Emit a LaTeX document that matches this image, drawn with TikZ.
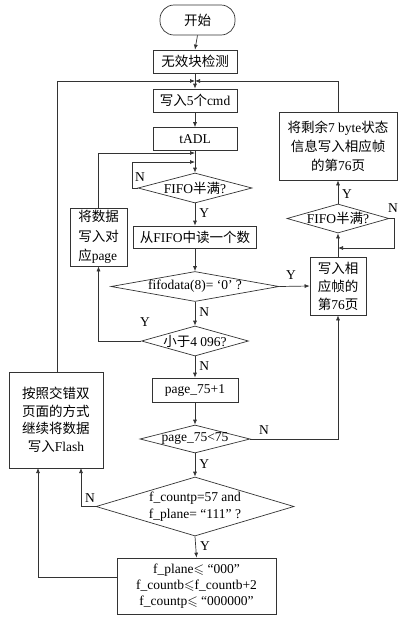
\documentclass[tikz,border=0pt]{standalone}
\usepackage{amssymb}
\usepackage{fontspec}
\setmainfont{Liberation Serif}
\newfontfamily\cjk{Noto Sans CJK SC}
\usetikzlibrary{shapes.geometric,arrows.meta}
\newcommand\zh[1]{{\cjk #1}}
\newcommand\nf{\fontsize{13.5pt}{17.5pt}\selectfont}
\definecolor{ln}{HTML}{333333}
\tikzset{
  box/.style={draw=ln, line width=0.7pt, rectangle, inner sep=0pt, align=center, font=\nf},
  dia/.style={draw=ln, line width=0.7pt, diamond, inner sep=0pt},
  arr/.style={draw=ln, line width=0.7pt, -{Latex[length=5pt,width=4pt]}},
  ln/.style={draw=ln, line width=0.7pt},
  lab/.style={font=\nf, inner sep=0pt},
}
\begin{document}
\begin{tikzpicture}[x=1pt,y=-1pt]
\fill[white] (0,0) rectangle (419,625);
\useasboundingbox (0,0) rectangle (419,625);
% main column
\node[box, rounded corners=14pt, minimum width=75pt, minimum height=30pt] (start) at (197.5,20) {\zh{开始}};
\node[box, minimum width=84pt, minimum height=23pt] (b1) at (195,61.5) {\zh{无效块检测}};
\coordinate (J1) at (195,81);
\node[box, minimum width=84pt, minimum height=23pt] (b2) at (195,100.5) {\zh{写入}5\zh{个}cmd};
\node[box, minimum width=84pt, minimum height=23pt] (b3) at (195,139) {tADL};
\coordinate (J2) at (195,153);
\coordinate (J3) at (195,162);
\node[dia, minimum width=114pt, minimum height=30pt, label={[font=\nf]center:FIFO\zh{半满}?}] (d1) at (195,188) {};
\node[box, minimum width=123pt, minimum height=22pt] (b4) at (195,237) {\zh{从}FIFO\zh{中读一个数}};
\node[dia, minimum width=168pt, minimum height=30pt, label={[font=\nf]center:fifodata(8)= ‘0’ ?}] (d3) at (195,286.5) {};
\node[dia, minimum width=107pt, minimum height=30pt, label={[font=\nf]center:\zh{小于}4 096?}] (d4) at (195,341) {};
\node[box, minimum width=86pt, minimum height=24pt] (b9) at (195,390) {page\_75+1};
\node[dia, minimum width=110pt, minimum height=28pt, label={[font=\nf]center:page\_75<75}] (d5) at (195,439) {};
\node[dia, minimum width=198pt, minimum height=59pt, label={[font=\nf, align=center]center:{f\_countp=57 and\\f\_plane= “111” ?}}] (d6) at (195,506.5) {};
\node[box, minimum width=159pt, minimum height=56pt, font=\fontsize{13.5pt}{16pt}\selectfont] (b10) at (196.5,586) {f\_plane$\leqslant$ “000”\\f\_countb$\leqslant$f\_countb+2\\f\_countp$\leqslant$ “000000”};
% left
\node[box, align=left, minimum width=57pt, minimum height=58pt, font=\fontsize{13.5pt}{19.5pt}\selectfont] (b5) at (98.5,237) {\zh{将数据}\\\zh{写入对}\\\zh{应}page};
\node[box, minimum width=94pt, minimum height=96pt] (b8) at (56,420) {\zh{按照交错双}\\\zh{页面的方式}\\\zh{继续将数据}\\\zh{写入}Flash};
% right
\node[box, minimum width=56pt, minimum height=58pt, font=\fontsize{13.5pt}{18pt}\selectfont] (b6) at (338,286) {\zh{写入相}\\\zh{应帧的}\\\zh{第}76\zh{页}};
\node[dia, minimum width=102pt, minimum height=29pt, label={[font=\nf]center:FIFO\zh{半满}?}] (d2) at (338,218.5) {};
\node[box, minimum width=118pt, minimum height=68pt, font=\fontsize{13.5pt}{19pt}\selectfont] (b7) at (338,146) {\zh{将剩余}7 byte\zh{状态}\\\zh{信息写入相应帧}\\\zh{的第}76\zh{页}};
% connectors main
\draw[arr] (start.south) -- (b1.north);
\draw[arr] (b1.south) -- (b2.north);
\draw[arr] (b2.south) -- (b3.north);
\draw[arr] (b3.south) -- (d1.north);
\draw[arr] (d1.south) -- node[lab, right=4pt, pos=0.45]{Y} (b4.north);
\draw[arr] (b4.south) -- (d3.north);
\draw[arr] (d3.south) -- node[lab, right=4pt, pos=0.45]{N} (d4.north);
\draw[arr] (d4.south) -- node[lab, right=4pt, pos=0.45]{N} (b9.north);
\draw[arr] (b9.south) -- (d5.north);
\draw[arr] (d5.south) -- node[lab, right=4pt, pos=0.45]{Y} (d6.north);
\draw[arr] (d6.south) -- node[lab, right=4pt, pos=0.45]{Y} (b10.north);
% loops
\draw[arr] (d1.west) -- ++(-5,0) |- (J3);
\node[lab] (nd1) at (140,177) {N};
\draw[arr] (b5.north) |- (J2);
\draw[arr] (d4.west) -| (b5.south);
\node[lab] (yd4) at (145,322) {Y};
\draw[arr] (d3.east) -- (b6.west);
\node[lab] (yd3) at (291,275) {Y};
\draw[arr] (d5.east) -| (b6.south);
\node[lab] (nd5) at (264,430) {N};
\coordinate (c6) at (81,468);
\draw[arr] (d6.west) -| (c6);
\node[lab] (nd6) at (90,498) {N};
\coordinate (c10a) at (38,577);
\coordinate (c10b) at (38,468);
\draw[arr] (b10.west |- c10a) -- (c10a) -- (c10b);
\coordinate (c8) at (57,372);
\draw[arr] (c8) |- (J1);
\draw[arr] (b6.north) -- (d2.south);
\coordinate (c2) at (338,248);
\draw[arr] (d2.east) -- ++(5,0) |- (c2);
\node[lab] (nd2) at (393,208) {N};
\draw[arr] (d2.north) -- (b7.south);
\node[lab] (yd2) at (347,194) {Y};
\draw[arr] (b7.north) |- (J1);
\end{tikzpicture}
\end{document}
